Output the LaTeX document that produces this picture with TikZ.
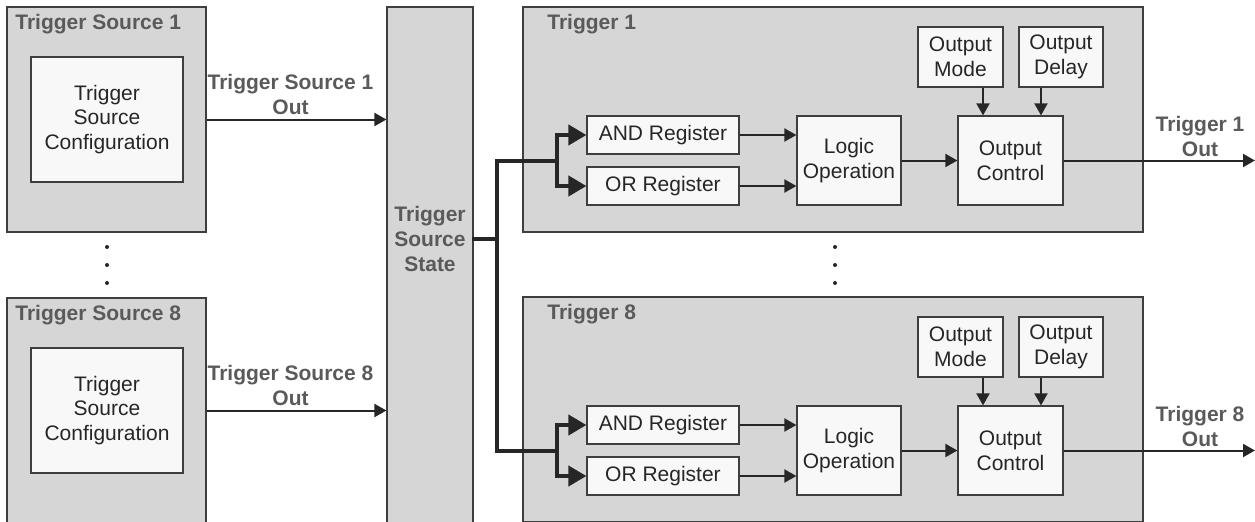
\documentclass[tikz,border=0pt]{standalone}
\usepackage{fontspec}
\setmainfont{Liberation Sans}
\usepackage{tikz}
\usetikzlibrary{arrows.meta}

\definecolor{boxgray}{HTML}{D6D6D6}
\definecolor{boxwhite}{HTML}{F8F8F8}
\definecolor{edgegray}{HTML}{3E3E3E}
\definecolor{titlegray}{HTML}{5A5A5A}
\definecolor{wiregray}{HTML}{262626}

\newcommand{\diagfont}{\fontsize{10.5}{12.4}\selectfont}

\tikzset{
    group/.style={draw=edgegray, line width=0.6pt, fill=boxgray, inner sep=0pt},
    block/.style={draw=edgegray, line width=0.6pt, fill=boxwhite, align=center,
        inner sep=0pt, text=wiregray, font=\diagfont},
    grouptitle/.style={font=\diagfont\bfseries, text=titlegray, inner sep=0pt, align=center},
    sig/.style={-{Triangle[length=6pt,width=6.5pt]}, line width=1pt, draw=wiregray},
    busline/.style={line width=2pt, draw=wiregray, line cap=rect},
    bus/.style={-{Triangle[length=9pt,width=10pt]}, line width=2pt, draw=wiregray},
}

\begin{document}
\begin{tikzpicture}[x=0.5pt, y=-0.5pt]
        \useasboundingbox (0,0) rectangle (1255,521);
        \clip (0,0) rectangle (1255,521);

        % trigger sources
        \foreach \n/\dy in {1/0, 8/291} {
            \node[group, minimum width=99.5pt, minimum height=112.5pt] (src\n) at (106.5, 119.5+\dy) {};
            \node[grouptitle, anchor=west] (srctitle\n) at (15, 24+\dy) {Trigger Source \n};
            \node[block, minimum width=76pt, minimum height=62.5pt] (cfg\n) at (107, 119.5+\dy) {Trigger\\Source\\Configuration};
        }

        % common state column
        \node[group, minimum width=43pt, minimum height=261.5pt] (state) at (430, 268.5) {};
        \node[grouptitle] (statelbl) at (430, 239) {Trigger\\Source\\State};

        \foreach \n in {1, 8} {
            \draw[sig] (src\n.east) -- node[grouptitle, above=2pt, xshift=-3pt] (srcout\n) {Trigger Source \n\\Out} (src\n.east -| state.west);
        }

        % triggers
        \foreach \n/\dy in {1/0, 8/290} {
            \node[group, minimum width=310pt, minimum height=112.5pt] (trig\n) at (833, 119.5+\dy) {};
            \node[grouptitle, anchor=west] (trigtitle\n) at (547, 24+\dy) {Trigger \n};
            \node[block, minimum width=76pt, minimum height=19pt] (and\n) at (663, 135+\dy) {AND Register};
            \node[block, minimum width=76pt, minimum height=19pt] (or\n) at (663, 186+\dy) {OR Register};
            \node[block, minimum width=52pt, minimum height=44.5pt] (logic\n) at (849, 160.5+\dy) {Logic\\Operation};
            \node[block, minimum width=52.5pt, minimum height=44.5pt] (ctrl\n) at (1010.5, 160.5+\dy) {Output\\Control};
            \node[block, minimum width=42.5pt, minimum height=30pt] (mode\n) at (960.5, 57+\dy) {Output\\Mode};
            \node[block, minimum width=42pt, minimum height=30pt] (delay\n) at (1061, 57+\dy) {Output\\Delay};

            \coordinate (modeout\n) at ([xshift=11.25pt]mode\n.south);
            \coordinate (delayout\n) at ([xshift=-10pt]delay\n.south);
            \coordinate (fork\n) at (557, 161+\dy);
            \coordinate (out\n) at (1255, 160.5+\dy);

            \draw[sig] (and\n.east) -- (and\n.east -| logic\n.west);
            \draw[sig] (or\n.east) -- (or\n.east -| logic\n.west);
            \draw[sig] (logic\n.east) -- (ctrl\n.west);
            \draw[sig] (modeout\n) -- (modeout\n |- ctrl\n.north);
            \draw[sig] (delayout\n) -- (delayout\n |- ctrl\n.north);
            \draw[sig] (ctrl\n.east) -- (out\n);
            \node[grouptitle] (trigout\n) at (1200, 136.5+\dy) {Trigger \n\\Out};

            \draw[bus] (fork\n) |- (and\n.west);
            \draw[bus] (fork\n) |- (or\n.west);
        }

        % bus from the state column
        \coordinate (tap) at (497, 239);
        \draw[busline] (statelbl -| state.east) -- (tap);
        \draw[busline] (fork1) -| (tap) |- (fork8);

        % ellipsis dots
        \foreach \x in {107, 835} {
            \foreach \y in {247, 265, 283} {
                \fill[wiregray] (\x, \y) circle (1pt);
            }
        }
\end{tikzpicture}
\end{document}
